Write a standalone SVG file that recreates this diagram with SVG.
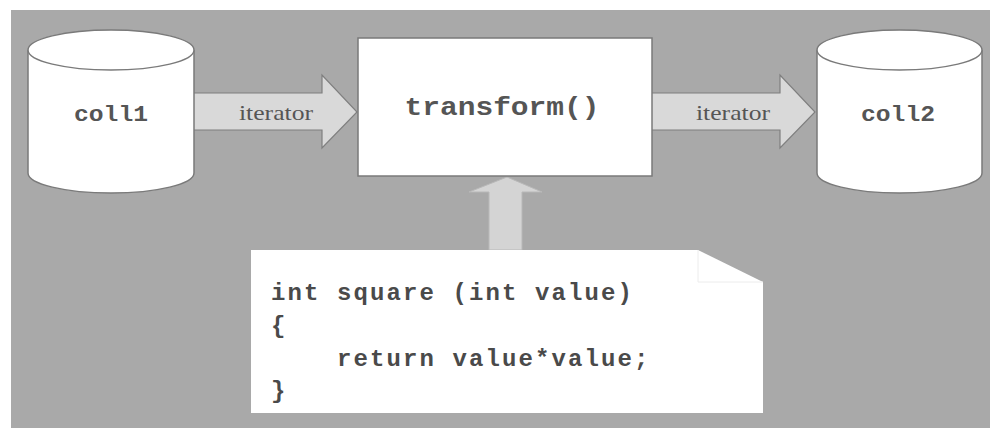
<svg xmlns="http://www.w3.org/2000/svg" width="990" height="428" viewBox="0 0 990 428">
<style>
.bg{fill:#a9a9a9}
.cyl{fill:#ffffff;stroke:#7a7a7a;stroke-width:1.5}
.box{fill:#ffffff;stroke:#7a7a7a;stroke-width:1.5}
.flow{fill:#d9d9d9;stroke:#7f7f7f;stroke-width:1.2}
.up{fill:#d4d4d4;stroke:#b8b8b8;stroke-width:1}
.mono{font-family:"Liberation Mono","Courier New",monospace;font-weight:bold;fill:#555555}
.serif{font-family:"Liberation Serif","Times New Roman",serif;fill:#555555;font-size:22px}
.code{font-family:"Liberation Mono","Courier New",monospace;font-weight:bold;fill:#4a4a4a;font-size:24px;letter-spacing:2.1px}
</style>
<rect x="0" y="0" width="990" height="428" fill="#ffffff"/>
<rect class="bg" x="11" y="10" width="979" height="418"/>
<g id="connectors">
<g id="arrow-coll1-transform">
<polygon class="flow" points="190,93 322,93 322,75 357,112 322,148 322,130 190,130"/>
<text class="serif" x="276" y="120" text-anchor="middle" textLength="74" lengthAdjust="spacingAndGlyphs">iterator</text>
</g>
<g id="arrow-transform-coll2">
<polygon class="flow" points="651,93 780,93 780,75 815,112 780,148 780,130 651,130"/>
<text class="serif" x="733" y="120" text-anchor="middle" textLength="74" lengthAdjust="spacingAndGlyphs">iterator</text>
</g>
<g id="arrow-square-transform">
<polygon class="up" points="507,177 542,192 522,192 522,250 489,250 489,192 469,192"/>
</g>
</g>
<g id="coll1">
<path class="cyl" d="M28,50 L28,173 A83,20 0 0,0 194,173 L194,50"/>
<ellipse class="cyl" cx="111" cy="50" rx="83" ry="20"/>
<text class="mono" x="111" y="121" font-size="22" text-anchor="middle" textLength="74" lengthAdjust="spacingAndGlyphs">coll1</text>
</g>
<g id="transform">
<rect class="box" x="358" y="38" width="294" height="138"/>
<text class="mono" x="502" y="115" font-size="25" text-anchor="middle" textLength="195" lengthAdjust="spacingAndGlyphs">transform()</text>
</g>
<g id="coll2">
<path class="cyl" d="M817,50 L817,173 A82.5,20 0 0,0 982,173 L982,50"/>
<ellipse class="cyl" cx="899.5" cy="50" rx="82.5" ry="20"/>
<text class="mono" x="898" y="121" font-size="22" text-anchor="middle" textLength="74" lengthAdjust="spacingAndGlyphs">coll2</text>
</g>
<g id="square">
<polygon points="251,250 698,250 763,282 763,413 251,413" fill="#ffffff"/>
<polyline points="698,250 698,282 763,282" fill="none" stroke="#ececec" stroke-width="1"/>
<text class="code" x="271" y="300">int square (int value)</text>
<text class="code" x="271" y="333">{</text>
<text class="code" x="337" y="366">return value*value;</text>
<text class="code" x="271" y="398">}</text>
</g>
</svg>
